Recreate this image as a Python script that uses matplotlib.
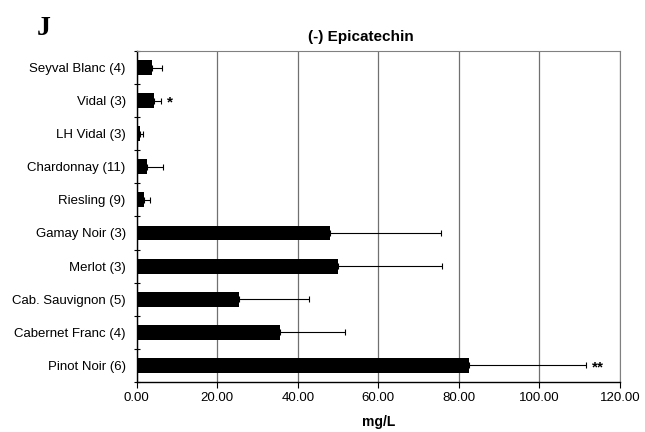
import matplotlib
matplotlib.use("Agg")
import matplotlib.pyplot as plt
import numpy as np

plt.rcParams['font.family'] = ['Liberation Sans', 'DejaVu Sans']

# Données (mg/L), de haut en bas
cepages = ["Seyval Blanc (4)", "Vidal (3)", "LH Vidal (3)", "Chardonnay (11)",
           "Riesling (9)", "Gamay Noir (3)", "Merlot (3)", "Cab. Sauvignon (5)",
           "Cabernet Franc (4)", "Pinot Noir (6)"]
moyennes = [3.9, 4.2, 0.8, 2.6, 1.8, 48.0, 49.9, 25.3, 35.5, 82.5]
ecarts = [2.4, 1.8, 0.8, 3.8, 1.6, 27.5, 25.9, 17.4, 16.2, 29.0]
etoiles = ["", "*", "", "", "", "", "", "", "", "**"]
graduations = [0, 20, 40, 60, 80, 100, 120]

fig = plt.figure(figsize=(6.45, 4.32), dpi=100)
ax = fig.add_axes([0.212, 0.116, 0.749, 0.766])

y = np.arange(len(cepages))[::-1]
ax.barh(y, moyennes, height=0.45, color="black", zorder=3)
ax.errorbar(moyennes, y, xerr=[np.zeros(len(ecarts)), ecarts], fmt="none",
            ecolor="black", elinewidth=0.8, capsize=2.5, capthick=0.8, zorder=4)

for yi, m, e, s in zip(y, moyennes, ecarts, etoiles):
    if s:
        ax.text(m + e + 1.5, yi - 0.05, s, ha="left", va="center", fontsize=11,
                fontweight="bold")

ax.set_xlim(0, 120)
ax.set_ylim(-0.5, len(cepages) - 0.5)
ax.set_xticks(graduations)
ax.set_xticklabels([f"{g:.2f}" for g in graduations], fontsize=9.5)
ax.set_yticks(y)
ax.set_yticklabels(cepages, fontsize=9.5)
ax.tick_params(axis="y", length=0, pad=8)
ax.set_yticks(np.arange(-0.5, len(cepages), 1), minor=True)
ax.tick_params(axis="y", which="minor", length=4, direction="inout", width=0.8)
ax.tick_params(axis="x", length=4, direction="out", width=0.8)

ax.grid(axis="x", color="#707070", linewidth=0.9, zorder=0)
for c in ["top", "right"]:
    ax.spines[c].set_color("#808080")
ax.spines["left"].set_linewidth(1.0)
ax.spines["bottom"].set_linewidth(1.0)

ax.set_xlabel("mg/L", fontsize=10, fontweight="bold", labelpad=8)
fig.text(0.56, 0.915, "(-) Epicatechin", ha="center", va="center",
         fontsize=11, fontweight="bold")
fig.text(0.067, 0.935, "J", ha="center", va="center", fontsize=20,
         fontweight="bold", family=["Liberation Serif", "DejaVu Serif"])

fig.savefig("out.png", dpi=100)
